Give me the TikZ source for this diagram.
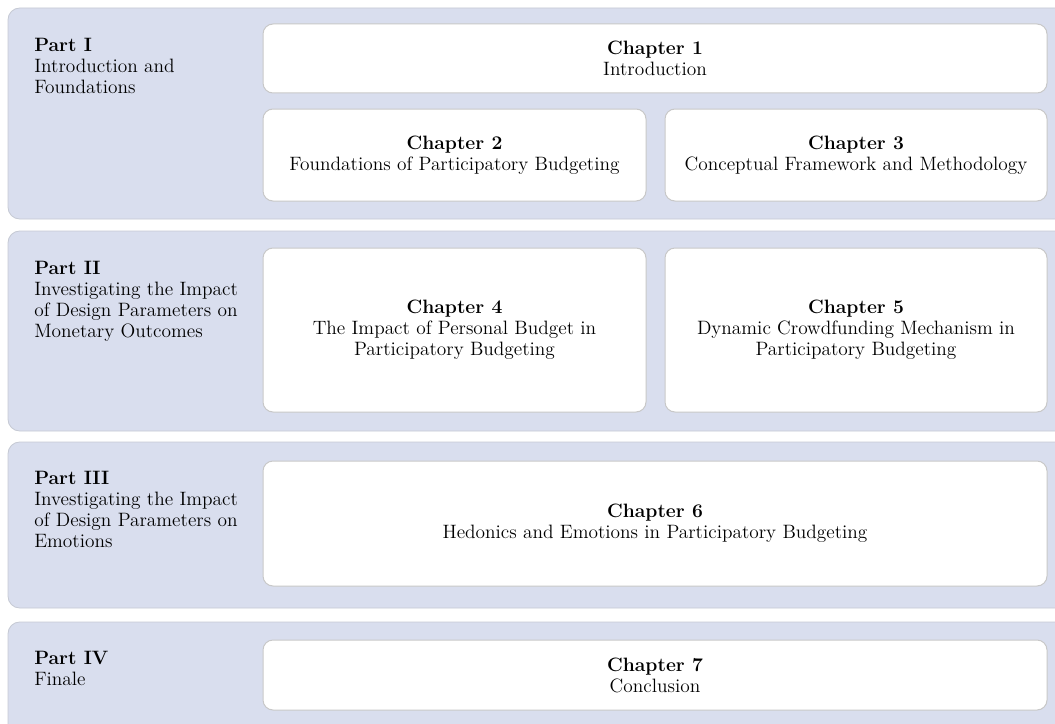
\documentclass[tikz,border=0pt]{standalone}
\usetikzlibrary{positioning}
\definecolor{partFill}{HTML}{D9DEEE}
\definecolor{partLine}{HTML}{C6CAD4}
\definecolor{boxLine}{HTML}{C8C8C8}
\tikzset{
  partband/.style={fill=partFill, draw=partLine, line width=0.5pt, rounded corners=7pt},
  partlabel/.style={anchor=north west, inner sep=0pt, align=left, font=\fontsize{11.6}{12.6}\selectfont},
  chapbox/.style={fill=white, draw=boxLine, line width=0.6pt, rounded corners=6pt, align=center, inner sep=2pt, font=\fontsize{11.6}{12.6}\selectfont}
}
\begin{document}
\begin{tikzpicture}[x=0.6pt,y=-0.6pt]
				\useasboundingbox (0,0) rectangle (1055,724);
				\clip (0,0) rectangle (1055,724);
				% part bands
				\draw[partband] (8,8) rectangle (1080,219);
				\draw[partband] (8,231) rectangle (1080,431);
				\draw[partband] (8,442) rectangle (1080,608);
				\draw[partband] (8,622) rectangle (1080,745);
				% part labels
				\node[partlabel] (part1) at (34,38) {\textbf{Part I}\\Introduction and\\Foundations};
				\node[partlabel] (part2) at (34,261) {\textbf{Part II}\\Investigating the Impact\\of Design Parameters on\\Monetary Outcomes};
				\node[partlabel] (part3) at (34,471) {\textbf{Part III}\\Investigating the Impact\\of Design Parameters on\\Emotions};
				\node[partlabel] (part4) at (34,651) {\textbf{Part IV}\\Finale};
				% chapters
				\node[chapbox, minimum width=470.4pt, minimum height=41.4pt] (ch1) at (655,58.5) {\textbf{Chapter 1}\\Introduction};
				\node[chapbox, minimum width=229.8pt, minimum height=55.2pt] (ch2) at (454.5,155) {\textbf{Chapter 2}\\Foundations of Participatory Budgeting};
				\node[chapbox, minimum width=229.2pt, minimum height=55.2pt] (ch3) at (856,155) {\textbf{Chapter 3}\\Conceptual Framework and Methodology};
				\node[chapbox, minimum width=229.8pt, minimum height=98.4pt] (ch4) at (454.5,330) {\textbf{Chapter 4}\\The Impact of Personal Budget in\\Participatory Budgeting};
				\node[chapbox, minimum width=229.2pt, minimum height=98.4pt] (ch5) at (856,330) {\textbf{Chapter 5}\\Dynamic Crowdfunding Mechanism in\\Participatory Budgeting};
				\node[chapbox, minimum width=470.4pt, minimum height=75pt] (ch6) at (655,523.5) {\textbf{Chapter 6}\\Hedonics and Emotions in Participatory Budgeting};
				\node[chapbox, minimum width=470.4pt, minimum height=42pt] (ch7) at (655,675) {\textbf{Chapter 7}\\Conclusion};
\end{tikzpicture}
\end{document}
